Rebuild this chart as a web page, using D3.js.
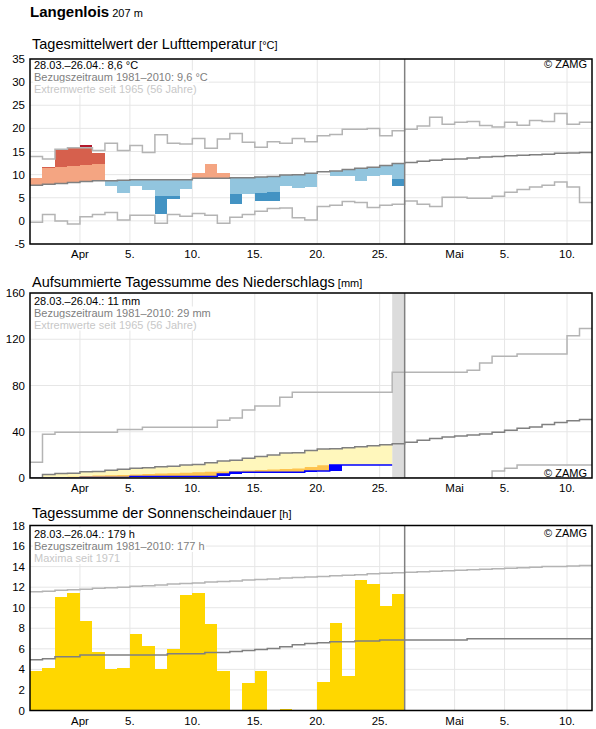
<!DOCTYPE html>
<html>
<head>
<meta charset="utf-8">
<script src="https://cdnjs.cloudflare.com/ajax/libs/d3/7.8.5/d3.min.js"></script>
<style>
body { margin:0; background:#fff; }
text { font-family: Arial, "Liberation Sans", sans-serif; }
</style>
</head>
<body>
<script>

// 45 days, 28.03. - 11.05.
var startDay = "2021-03-28";
var dayCount = 45;
var tickDays = ["2021-04-01","2021-04-05","2021-04-10","2021-04-15","2021-04-20","2021-04-25","2021-05-01","2021-05-05","2021-05-10"];
var tickLabels = ["Apr","5.","10.","15.","20.","25.","Mai","5.","10."];

// temperature (daily mean, °C)
var tempMean = [9.3,11.6,15.5,15.9,16.4,14.7,7.6,6.1,7.6,6.7,1.5,4.7,6.9,10.4,12.4,
                10.3,3.6,5.9,4.3,4.3,7.5,7.2,7.4,10.6,9.6,9.6,8.7,9.6,10.0,7.6];
var tempNormal = [7.7,7.9,8.1,8.3,8.5,8.7,8.7,8.8,8.9,8.9,8.9,8.9,8.9,9.2,9.2,
                  9.2,9.3,9.3,9.5,9.6,9.9,10.0,10.3,10.6,10.8,11.1,11.4,11.6,12.0,12.4,
                  12.6,12.9,13.1,13.3,13.4,13.6,13.8,13.9,14.1,14.2,14.3,14.4,14.6,14.7,14.8];
var tempMax = [13.9,13.4,15.5,15.8,15.8,15.2,16.8,15.2,16.3,14.8,18.6,16.8,16.6,17.8,15.7,
               17.7,18.9,17.0,15.9,17.1,16.8,17.8,17.1,18.4,18.7,19.8,19.8,20.0,18.4,19.5,
               19.8,20.5,22.4,20.9,21.3,21.5,20.6,20.3,21.3,20.7,21.7,21.5,23.2,20.9,21.3];
var tempMin = [-0.3,1.4,0.0,-0.7,0.9,1.4,1.8,0.2,1.2,1.2,-0.5,1.4,1.0,1.6,1.2,
               -0.5,0.8,1.4,2.1,2.7,2.8,0.7,0.2,3.1,3.4,4.2,4.0,2.9,3.4,3.6,
               4.3,3.6,3.1,5.1,5.1,4.9,4.9,5.3,6.2,6.8,7.3,7.7,8.4,7.3,4.0];
var tempBandUp = [3.6, 7.4];
var tempBandDown = 3.45;

// precipitation, accumulated (mm)
var precipSum = [0,0,0,0,0.5,0.5,0.5,0.5,1.4,1.4,1.4,1.4,1.4,1.4,1.4,
                 3.5,4.9,4.9,4.9,4.9,4.9,4.9,6.1,6.1,11.2,11.2,11.2,11.2,11.2];
var precipDry = [0,0.7,0.9,1.1,1.8,2.1,2.4,2.7,3.1,3.4,3.8,4.1,4.6,4.9,5.3,
                 5.6,6.1,6.4,6.9,7.3,7.8,8.2,9.6,11.1,11.0,11.0,11.0,11.0,11.0];
var precipNormal = [0,3.0,4.0,4.2,5.3,5.6,6.8,7.5,8.4,8.8,9.8,10.2,11.2,11.6,13.2,
                    14.8,15.3,17.0,18.5,20.0,21.6,21.9,23.8,25.0,25.3,26.2,27.1,28.0,28.8,29.7,
                    30.9,32.6,34.1,35.5,36.4,37.2,38.1,39.6,41.3,43.1,44.2,46.3,48.0,49.5,50.6];
var precipMax = [13.6,37.8,39.5,39.5,39.5,39.5,39.5,42.0,42.0,43.9,43.9,43.9,43.9,43.9,43.9,
                 50.0,51.8,58.8,62.2,62.2,69.8,74.1,74.1,74.1,74.1,74.1,74.1,74.1,74.1,91.4,
                 91.4,91.4,91.4,91.4,91.4,93.1,99.5,105.2,105.2,107.3,107.3,107.3,107.3,123.1,129.4];
var precipMin = [0,0,0,0,0,0,0,0,0,0,0,0,0,0,0,
                 0,0,0,0,0,0,0,0,0,0,0,0,0,0,0,
                 0,0,0,0,0,0,0,6.0,8.4,11.2,11.2,11.2,11.2,11.2,11.2];

// sunshine (h)
var sunHours = [3.82,4.18,11.02,11.48,8.75,5.67,4.08,4.18,7.43,6.23,3.99,6.03,11.19,11.48,8.37,
                3.82,0,2.63,3.89,0,0.19,0,0,2.82,8.56,3.40,12.74,12.26,10.12,11.38];
var sunNormal = [4.93,5.03,5.22,5.22,5.41,5.41,5.41,5.41,5.41,5.41,5.41,5.51,5.51,5.51,5.64,
                 5.64,5.74,5.84,5.93,6.03,6.2,6.4,6.52,6.58,6.68,6.68,6.77,6.77,6.87,6.87,
                 6.87,6.87,6.87,6.87,6.87,6.97,6.97,6.97,6.97,6.97,6.97,6.97,6.97,6.97,6.97];
var sunMax = [11.55,11.6,11.7,11.75,11.8,11.9,11.95,12.0,12.1,12.15,12.2,12.3,12.35,12.4,12.5,
              12.55,12.6,12.7,12.75,12.8,12.9,12.95,13.0,13.05,13.1,13.15,13.2,13.3,13.35,13.4,
              13.45,13.5,13.55,13.6,13.65,13.7,13.75,13.8,13.85,13.9,13.95,14.0,14.0,14.05,14.1];

var width = 596, height = 729;
var left = 30, right = 592, plotH = 185;
var todayIndex = 30;

var svg = d3.select("body").append("svg")
  .attr("width", width)
  .attr("height", height);

var d0 = new Date(startDay + "T00:00:00Z");
function day(i) { return d3.utcDay.offset(d0, i); }
var x = d3.scaleUtc().domain([day(0), day(dayCount)]).range([left, right]);

function stepLine(vals, y) {
  var pts = vals.map(function(v, i) { return [x(day(i)), y(v)]; });
  pts.push([x(day(vals.length)), y(vals[vals.length - 1])]);
  return d3.line().curve(d3.curveStepAfter)(pts);
}

// header
var head = svg.append("text").attr("x", 30).attr("y", 17);
head.append("tspan").text("Langenlois").attr("font-weight", "bold").attr("font-size", "15px");
head.append("tspan").text(" 207 m").attr("font-size", "11px");

function panel(top, titleY, title, unit, domain, ticks, clipId) {
  var y = d3.scaleLinear().domain(domain).range([top + plotH, top]);
  var g = svg.append("g");

  var t = g.append("text").attr("x", 32).attr("y", titleY);
  t.append("tspan").text(title).attr("font-size", "14.5px");
  t.append("tspan").text(" [" + unit + "]").attr("font-size", "11px");

  svg.append("clipPath").attr("id", clipId)
    .append("rect").attr("x", left).attr("y", top).attr("width", right - left).attr("height", plotH);

  // grid
  g.selectAll(".hgrid").data(ticks).enter().append("line")
    .attr("x1", left).attr("x2", right)
    .attr("y1", function(d) { return y(d); }).attr("y2", function(d) { return y(d); })
    .attr("stroke", "#e6e6e6").attr("stroke-width", 1);
  g.selectAll(".vgrid").data(tickDays).enter().append("line")
    .attr("x1", function(d) { return x(new Date(d + "T00:00:00Z")); })
    .attr("x2", function(d) { return x(new Date(d + "T00:00:00Z")); })
    .attr("y1", top).attr("y2", top + plotH)
    .attr("stroke", "#e6e6e6").attr("stroke-width", 1);

  g.selectAll(".ylab").data(ticks).enter().append("text")
    .attr("x", 25).attr("y", function(d) { return y(d); })
    .attr("dy", "0.35em").attr("text-anchor", "end")
    .attr("font-size", "11.5px")
    .text(function(d) { return d; });
  g.selectAll(".xlab").data(tickDays).enter().append("text")
    .attr("x", function(d) { return x(new Date(d + "T00:00:00Z")); })
    .attr("y", top + plotH + 14)
    .attr("text-anchor", "middle").attr("font-size", "11.5px")
    .text(function(d, i) { return tickLabels[i]; });

  var data = g.append("g").attr("clip-path", "url(#" + clipId + ")");
  return { g: g, data: data, y: y, top: top };
}

function finish(p, notes, noteY, zamgY, zamgWhite) {
  // today line
  p.g.append("line")
    .attr("x1", x(day(todayIndex))).attr("x2", x(day(todayIndex)))
    .attr("y1", p.top).attr("y2", p.top + plotH)
    .attr("stroke", "#808080").attr("stroke-width", 1.5);

  var colors = ["#000", "#808080", "#c8c8c8"];
  notes.forEach(function(s, i) {
    var txt = p.g.append("text").attr("x", 34).attr("y", noteY + i * 12)
      .attr("font-size", "11px").attr("fill", colors[i]).text(s);
    var b = txt.node().getBBox();
    p.g.insert("rect", function() { return txt.node(); })
      .attr("x", b.x - 1).attr("y", b.y).attr("width", b.width + 2).attr("height", b.height)
      .attr("fill", "#fff");
  });

  var z = p.g.append("text").attr("x", 587).attr("y", zamgY)
    .attr("font-size", "11px").attr("text-anchor", "end").text("\u00a9 ZAMG");
  if (zamgWhite) {
    var b = z.node().getBBox();
    p.g.insert("rect", function() { return z.node(); })
      .attr("x", b.x - 2).attr("y", b.y).attr("width", b.width + 4).attr("height", b.height)
      .attr("fill", "#fff");
  }

  p.g.append("rect")
    .attr("x", left).attr("y", p.top).attr("width", right - left).attr("height", plotH)
    .attr("fill", "none").attr("stroke", "#000").attr("stroke-width", 1.5);
}

//// Panel 1: temperature
var p1 = panel(59, 49, "Tagesmittelwert der Lufttemperatur", "°C", [-5, 35], d3.range(-5, 36, 5), "c1");

var segs = [];
tempMean.forEach(function(v, i) {
  var n = tempNormal[i], d = v - n;
  if (d > 0) {
    segs.push({ i: i, lo: n, hi: n + Math.min(d, tempBandUp[0]), c: "#f4a582" });
    if (d > tempBandUp[0]) segs.push({ i: i, lo: n + tempBandUp[0], hi: n + Math.min(d, tempBandUp[1]), c: "#d6604d" });
    if (d > tempBandUp[1]) segs.push({ i: i, lo: n + tempBandUp[1], hi: v, c: "#b2182b" });
  } else if (d < 0) {
    segs.push({ i: i, lo: n - Math.min(-d, tempBandDown), hi: n, c: "#92c5de" });
    if (-d > tempBandDown) segs.push({ i: i, lo: v, hi: n - tempBandDown, c: "#4393c3" });
  }
});

p1.data.selectAll(".bar").data(segs).enter().append("rect")
  .attr("x", function(d) { return x(day(d.i)); })
  .attr("width", function(d) { return x(day(d.i + 1)) - x(day(d.i)); })
  .attr("y", function(d) { return p1.y(d.hi); })
  .attr("height", function(d) { return p1.y(d.lo) - p1.y(d.hi); })
  .attr("fill", function(d) { return d.c; })
  .attr("shape-rendering", "crispEdges");

[tempMax, tempMin].forEach(function(s) {
  p1.data.append("path").attr("d", stepLine(s, p1.y))
    .attr("fill", "none").attr("stroke", "#b4b4b4").attr("stroke-width", 1.5);
});
p1.data.append("path").attr("d", stepLine(tempNormal, p1.y))
  .attr("fill", "none").attr("stroke", "#808080").attr("stroke-width", 1.5);

finish(p1, ["28.03.\u201326.04.: 8,6 °C", "Bezugszeitraum 1981\u20132010: 9,6 °C", "Extremwerte seit 1965 (56 Jahre)"], 68.5, 68, false);

//// Panel 2: precipitation
var p2 = panel(293, 287, "Aufsummierte Tagessumme des Niederschlags", "mm", [0, 160], d3.range(0, 161, 40), "c2");

// missing day band
p2.data.append("rect")
  .attr("x", x(day(29))).attr("width", x(day(30)) - x(day(29)))
  .attr("y", 293).attr("height", plotH).attr("fill", "#dcdcdc");

var nObs = precipSum.length;
var idx = d3.range(nObs + 1);
function v(arr, i) { return arr[Math.min(i, nObs - 1)]; }

p2.data.append("path")
  .attr("d", d3.area().curve(d3.curveStepAfter)
    .x(function(i) { return x(day(i)); })
    .y0(function(i) { return p2.y(v(precipSum, i)); })
    .y1(function(i) { return p2.y(Math.max(v(precipNormal, i), v(precipSum, i))); })(idx))
  .attr("fill", "#fff7bc");

p2.data.append("path")
  .attr("d", d3.area().curve(d3.curveStepAfter)
    .x(function(i) { return x(day(i)); })
    .y0(function(i) { return p2.y(v(precipSum, i)); })
    .y1(function(i) { return p2.y(Math.max(v(precipDry, i), v(precipSum, i))); })(idx))
  .attr("fill", "#fec44f");

// daily amounts
p2.data.selectAll(".pbar").data(precipSum).enter().append("rect")
  .attr("x", function(d, i) { return x(day(i)); })
  .attr("width", function(d, i) { return x(day(i + 1)) - x(day(i)); })
  .attr("y", function(d) { return p2.y(d); })
  .attr("height", function(d, i) { return p2.y(i ? precipSum[i - 1] : 0) - p2.y(d); })
  .attr("fill", "#0000ff")
  .attr("shape-rendering", "crispEdges");

p2.data.append("path").attr("d", stepLine(precipSum, p2.y))
  .attr("fill", "none").attr("stroke", "#0000ff").attr("stroke-width", 1.5);

[precipMax, precipMin].forEach(function(s) {
  p2.data.append("path").attr("d", stepLine(s, p2.y))
    .attr("fill", "none").attr("stroke", "#b4b4b4").attr("stroke-width", 1.5);
});
p2.data.append("path").attr("d", stepLine(precipNormal, p2.y))
  .attr("fill", "none").attr("stroke", "#808080").attr("stroke-width", 1.5);

finish(p2, ["28.03.\u201326.04.: 11 mm", "Bezugszeitraum 1981\u20132010: 29 mm", "Extremwerte seit 1965 (56 Jahre)"], 304.5, 476.5, true);

//// Panel 3: sunshine
var p3 = panel(525.5, 518, "Tagessumme der Sonnenscheindauer", "h", [0, 18], d3.range(0, 19, 2), "c3");

p3.data.selectAll(".sbar").data(sunHours).enter().append("rect")
  .attr("x", function(d, i) { return x(day(i)); })
  .attr("width", function(d, i) { return x(day(i + 1)) - x(day(i)); })
  .attr("y", function(d) { return p3.y(d); })
  .attr("height", function(d) { return p3.y(0) - p3.y(d); })
  .attr("fill", "#ffd700")
  .attr("shape-rendering", "crispEdges");

p3.data.append("path").attr("d", stepLine(sunMax, p3.y))
  .attr("fill", "none").attr("stroke", "#b4b4b4").attr("stroke-width", 1.5);
p3.data.append("path").attr("d", stepLine(sunNormal, p3.y))
  .attr("fill", "none").attr("stroke", "#808080").attr("stroke-width", 1.5);

finish(p3, ["28.03.\u201326.04.: 179 h", "Bezugszeitraum 1981\u20132010: 177 h", "Maxima seit 1971"], 538, 537, false);

</script>
</body>
</html>
